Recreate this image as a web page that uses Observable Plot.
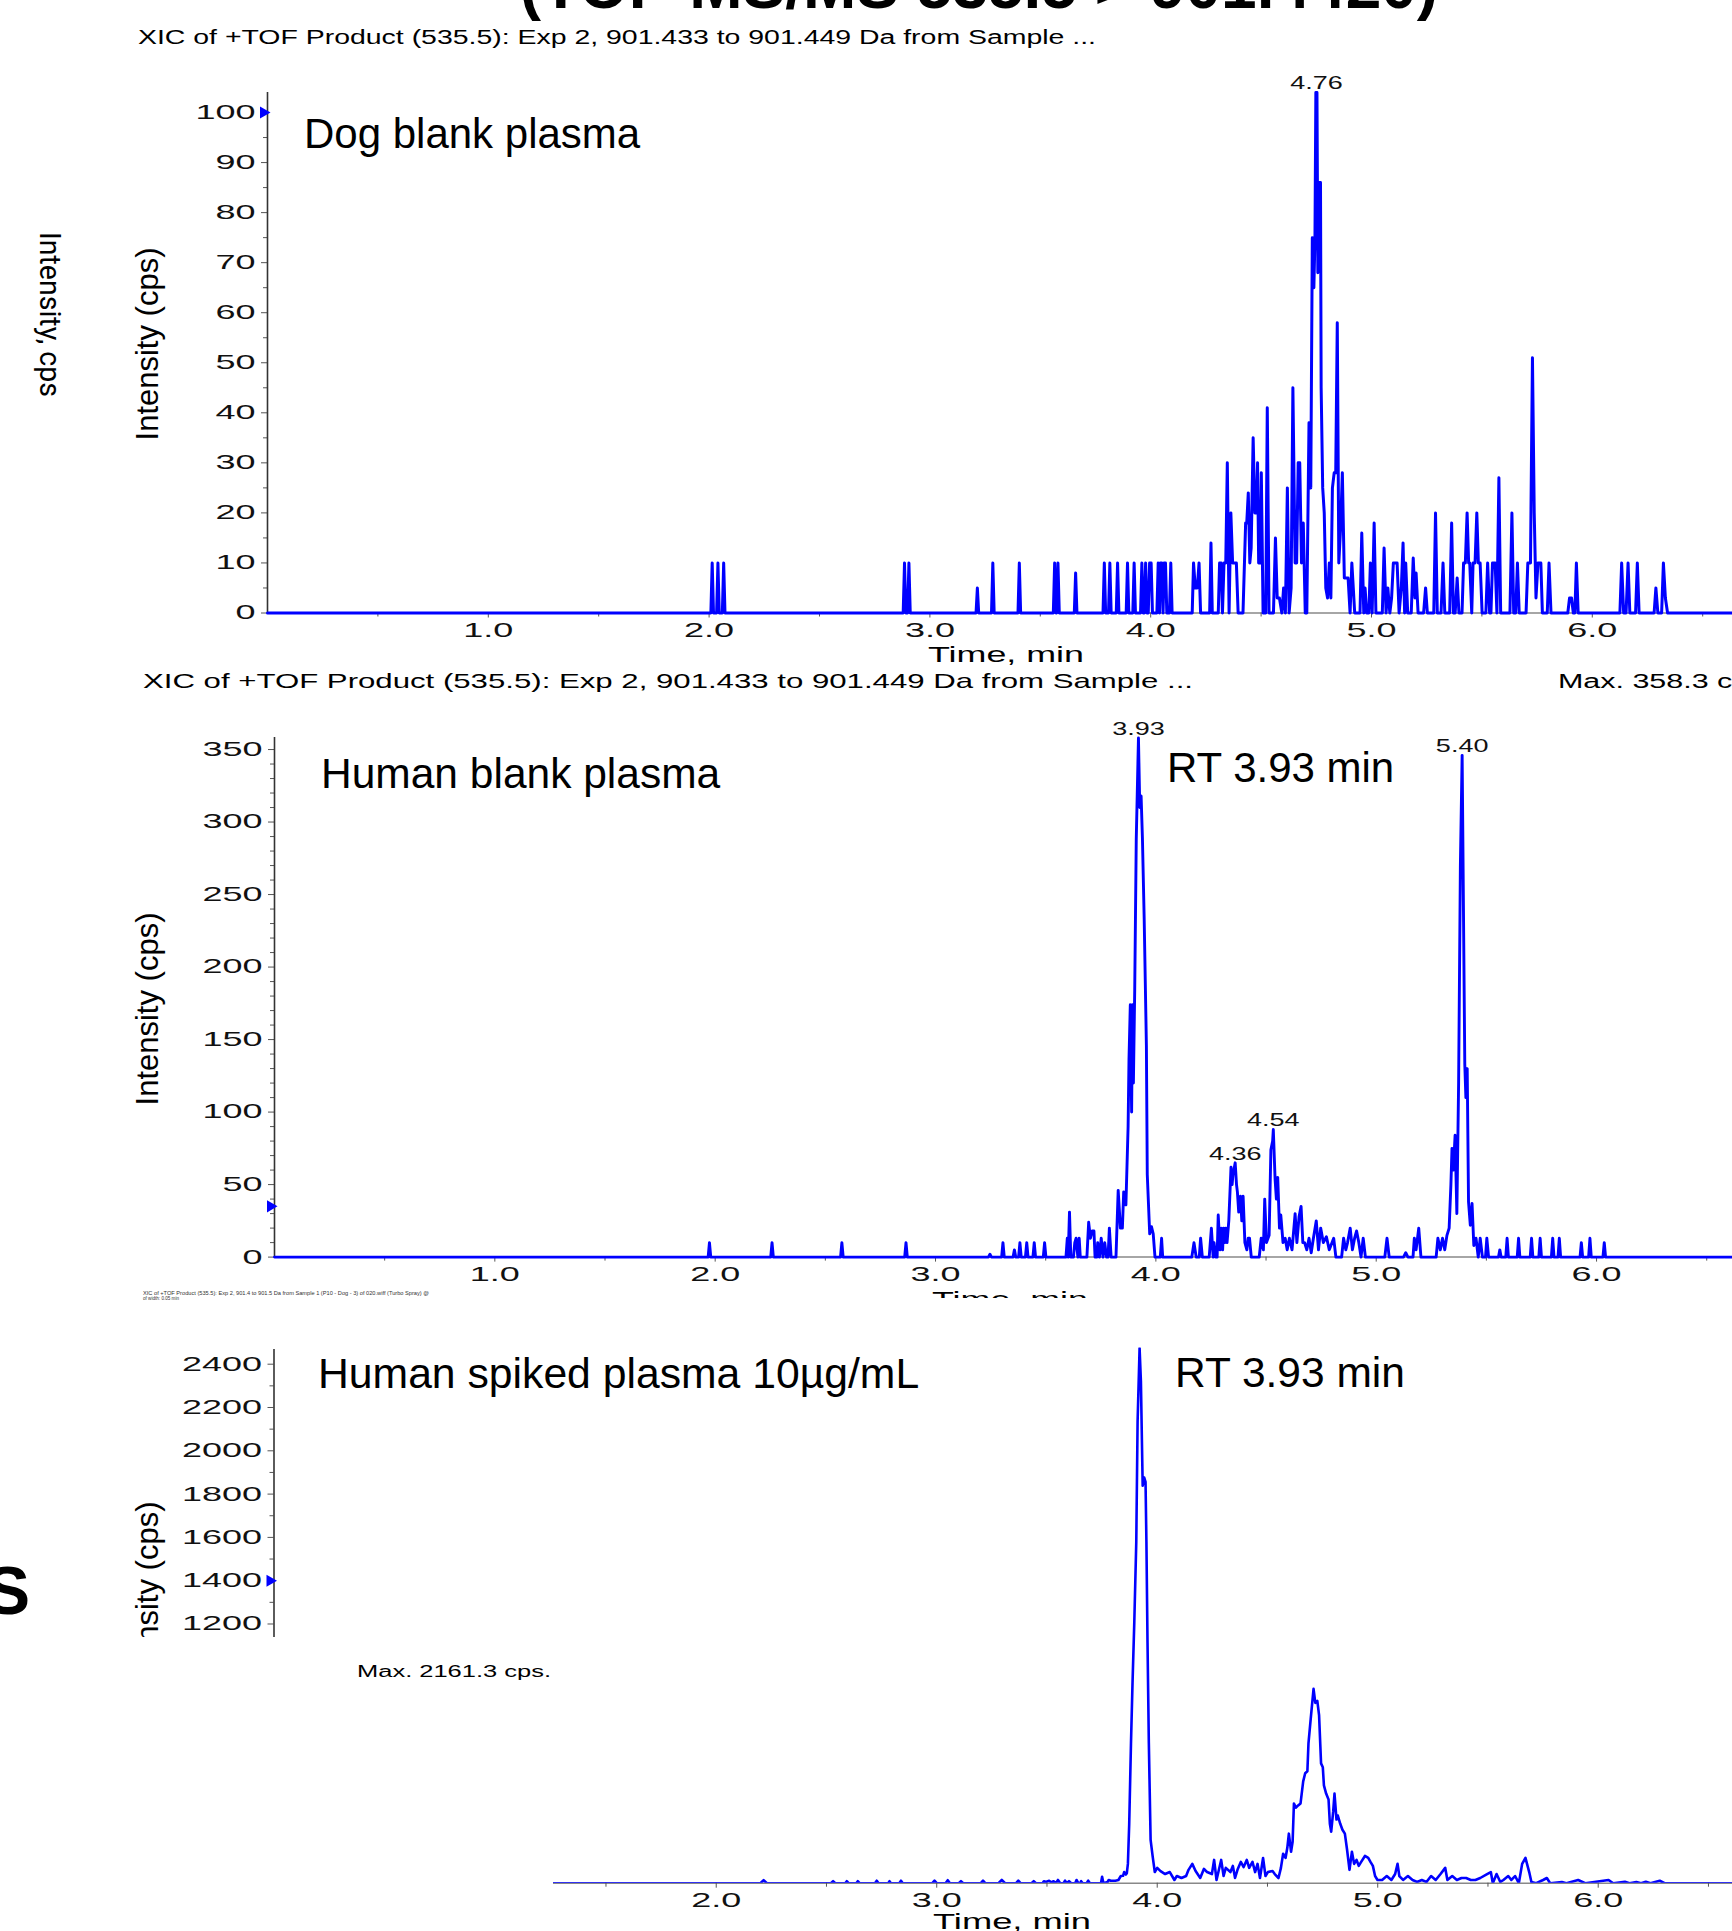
<!DOCTYPE html>
<html><head><meta charset="utf-8">
<script src="https://cdn.jsdelivr.net/npm/d3@7"></script>
<script src="https://cdn.jsdelivr.net/npm/@observablehq/plot@0.6"></script>
<style>
html,body{margin:0;padding:0;background:#fff;}
#root{position:relative;width:1732px;height:1931px;overflow:hidden;background:#fff;}
.box{position:absolute;overflow:hidden;}
</style></head>
<body><div id="root"></div>
<script>
// ---------------- DATA ----------------
// [time (min), intensity (cps)]
const dogTrace = [
[0,0],[2.008,0],[2.014,10],[2.020,0],[2.034,0],[2.040,10],[2.046,0],[2.060,0],[2.066,10],[2.072,0],
[2.879,0],[2.885,10],[2.891,0],[2.899,0],[2.905,10],[2.911,0],
[3.209,0],[3.215,5],[3.221,0],[3.279,0],[3.285,10],[3.291,0],[3.399,0],[3.405,10],[3.411,0],
[3.559,0],[3.565,10],[3.571,0],[3.574,0],[3.580,10],[3.586,0],[3.654,0],[3.660,8],[3.666,0],
[3.784,0],[3.790,10],[3.796,0],[3.809,0],[3.815,10],[3.821,0],[3.844,0],[3.850,10],[3.856,0],
[3.889,0],[3.895,10],[3.901,0],[3.919,0],[3.925,10],[3.931,0],
[3.954,0],[3.960,10],[3.966,0],[3.971,0],[3.977,10],[3.983,0],[3.989,0],[3.995,10],[4.002,10],[4.008,0],
[4.028,0],[4.034,10],[4.040,0],[4.044,10],[4.050,10],[4.056,0],[4.061,10],[4.067,10],[4.073,0],[4.085,0],[4.091,10],[4.097,0],
[4.188,0],[4.194,10],[4.202,5],[4.211,5],[4.219,10],[4.226,0],[4.267,0],[4.273,14],[4.279,0],
[4.306,0],[4.312,10],[4.319,10],[4.325,0],[4.332,10],[4.340,10],[4.347,30],[4.355,0],[4.363,20],[4.371,10],[4.379,10],[4.388,10],[4.396,0],
[4.418,0],[4.430,18],[4.435,18],[4.442,24],[4.449,10],[4.455,13],[4.464,35],[4.472,20],[4.479,20],[4.484,30],[4.489,10],[4.496,10],[4.501,28],[4.509,0],
[4.521,0],[4.528,41],[4.536,0],[4.556,0],[4.565,15],[4.573,3],[4.583,3],[4.594,0],[4.602,5],[4.610,0],[4.619,25],[4.627,0],[4.636,5],[4.644,45],
[4.654,10],[4.661,10],[4.668,30],[4.675,30],[4.683,10],[4.691,18],[4.700,0],[4.707,0],[4.717,38],[4.725,25],[4.732,75],[4.739,65],[4.744,75],
[4.748,104],[4.753,104],[4.757,68],[4.761,70],[4.764,86],[4.769,86],[4.772,45],[4.779,25],[4.786,20],[4.793,5],[4.801,3],[4.809,10],[4.816,3],
[4.823,25],[4.831,28],[4.838,28],[4.845,58],[4.852,10],[4.860,17],[4.868,28],[4.877,7],[4.885,7],[4.894,7],[4.903,0],[4.911,10],[4.924,0],
[4.948,0],[4.956,16],[4.965,0],[4.971,5],[4.978,0],[4.988,0],[4.995,10],[5.003,0],[5.012,18],[5.020,0],
[5.049,0],[5.057,13],[5.066,0],[5.074,5],[5.083,0],[5.091,3],[5.099,10],[5.108,10],[5.116,10],[5.125,0],[5.135,5],[5.143,14],[5.150,0],[5.155,10],[5.164,0],
[5.180,0],[5.189,11],[5.197,3],[5.202,8],[5.211,0],[5.236,0],[5.245,5],[5.253,0],[5.282,0],[5.290,20],[5.298,0],[5.315,0],[5.324,10],[5.332,0],
[5.354,0],[5.363,18],[5.371,0],[5.379,0],[5.388,7],[5.396,0],[5.410,0],[5.417,10],[5.425,10],[5.433,20],[5.440,10],[5.445,10],[5.454,0],
[5.460,10],[5.469,10],[5.477,20],[5.484,10],[5.492,10],[5.501,0],[5.518,0],[5.526,10],[5.535,0],[5.541,0],[5.548,10],[5.560,10],[5.568,0],
[5.577,27],[5.585,0],[5.627,0],[5.636,20],[5.644,0],[5.653,0],[5.661,10],[5.669,0],[5.700,0],[5.708,10],[5.720,10],[5.729,51],[5.737,20],
[5.745,3],[5.754,10],[5.767,10],[5.774,0],[5.796,0],[5.804,10],[5.813,0],[5.889,0],[5.897,3],[5.906,3],[5.914,0],[5.921,0],[5.928,10],[5.936,0],
[6.125,0],[6.133,10],[6.142,0],[6.153,0],[6.162,10],[6.170,0],[6.196,0],[6.204,10],[6.212,0],[6.280,0],[6.288,5],[6.297,0],
[6.314,0],[6.322,10],[6.331,3],[6.341,0],[6.635,0]
];

const humanBlankTrace = [
[0,0],[1.968,0],[1.974,10],[1.980,0],[2.252,0],[2.258,10],[2.264,0],[2.569,0],[2.575,10],[2.581,0],[2.860,0],[2.866,10],[2.872,0],
[3.240,0],[3.247,2],[3.254,0],[3.300,0],[3.306,10],[3.312,0],[3.352,0],[3.358,5],[3.364,0],[3.377,0],[3.383,10],[3.389,0],
[3.408,0],[3.414,10],[3.420,0],[3.442,0],[3.448,10],[3.454,0],[3.489,0],[3.495,10],[3.501,0],
[3.592,0],[3.598,13],[3.602,0],[3.608,31],[3.614,0],[3.626,0],[3.632,10],[3.638,13],[3.646,0],[3.652,13],[3.657,0],
[3.687,0],[3.695,24],[3.703,13],[3.711,18],[3.719,18],[3.724,0],[3.732,0],[3.736,10],[3.744,0],[3.752,13],[3.760,0],[3.768,10],[3.776,0],
[3.783,0],[3.789,20],[3.797,0],[3.819,0],[3.829,46],[3.839,20],[3.848,20],[3.854,45],[3.864,36],[3.874,90],[3.878,136],[3.884,174],
[3.890,100],[3.894,174],[3.898,120],[3.904,184],[3.911,288],[3.921,358],[3.927,310],[3.933,318],[3.939,289],[3.947,233],[3.957,146],
[3.961,57],[3.972,16],[3.980,21],[3.988,16],[3.996,0],[4.020,0],[4.026,13],[4.031,0],
[4.163,0],[4.173,10],[4.183,0],[4.197,0],[4.203,13],[4.211,0],[4.242,0],[4.252,20],[4.260,0],[4.264,10],[4.272,0],[4.278,0],[4.283,29],
[4.291,5],[4.297,20],[4.303,5],[4.307,20],[4.313,10],[4.317,20],[4.323,10],[4.331,25],[4.341,62],[4.346,50],[4.350,57],[4.360,65],
[4.366,50],[4.370,45],[4.376,31],[4.384,42],[4.390,25],[4.396,42],[4.404,10],[4.413,5],[4.419,13],[4.425,13],[4.433,0],
[4.469,0],[4.478,13],[4.488,5],[4.494,40],[4.502,10],[4.514,15],[4.522,74],[4.530,80],[4.533,88],[4.541,54],[4.547,40],[4.553,55],
[4.561,20],[4.567,29],[4.577,10],[4.587,13],[4.596,5],[4.606,13],[4.618,5],[4.632,30],[4.640,10],[4.650,28],[4.659,35],[4.667,10],
[4.675,10],[4.685,5],[4.695,13],[4.705,3],[4.715,13],[4.728,25],[4.738,5],[4.748,20],[4.760,10],[4.774,14],[4.787,5],[4.807,13],[4.817,0],
[4.843,0],[4.852,13],[4.862,5],[4.870,10],[4.882,20],[4.892,5],[4.902,13],[4.911,18],[4.921,10],[4.931,0],[4.941,13],[4.951,0],
[5.039,0],[5.049,13],[5.059,0],[5.124,0],[5.134,3],[5.144,0],[5.167,0],[5.173,13],[5.181,5],[5.193,20],[5.203,0],
[5.272,0],[5.280,13],[5.291,5],[5.301,13],[5.311,5],[5.321,15],[5.331,20],[5.339,50],[5.344,75],[5.350,60],[5.358,84],[5.366,30],
[5.374,120],[5.382,270],[5.390,346],[5.402,133],[5.407,110],[5.413,130],[5.419,38],[5.427,22],[5.435,37],[5.443,8],[5.453,13],[5.463,0],
[5.472,13],[5.482,0],[5.496,0],[5.502,13],[5.510,0],
[5.555,0],[5.561,5],[5.567,0],[5.588,0],[5.594,13],[5.600,0],[5.640,0],[5.646,13],[5.652,0],[5.699,0],[5.705,13],[5.711,0],
[5.738,0],[5.744,13],[5.750,0],[5.795,0],[5.801,13],[5.807,0],[5.825,0],[5.831,13],[5.837,0],[5.925,0],[5.931,10],[5.937,0],
[5.964,0],[5.970,13],[5.976,0],[6.029,0],[6.035,10],[6.041,0],[6.614,0]
];

const humanSpikedTrace = [
[1.262,0],[2.200,0],[2.215,12],[2.230,0],[2.520,0],[2.530,8],[2.540,0],[2.585,0],[2.592,8],[2.600,0],[2.635,0],[2.642,8],[2.650,0],
[2.720,0],[2.728,10],[2.736,0],[2.780,0],[2.786,8],[2.792,0],[2.830,0],[2.838,10],[2.846,0],[2.980,0],[2.990,10],[3.000,0],
[3.040,0],[3.050,12],[3.060,0],[3.100,0],[3.110,8],[3.120,0],[3.200,0],[3.210,10],[3.220,0],[3.280,0],[3.295,13],[3.310,0],
[3.360,0],[3.370,10],[3.380,0],[3.430,0],[3.440,8],[3.450,0],[3.480,0],[3.486,8],[3.495,5],[3.510,10],[3.520,3],[3.530,8],[3.540,0],
[3.550,13],[3.560,0],[3.575,0],[3.582,10],[3.590,0],[3.600,8],[3.610,0],[3.628,0],[3.634,13],[3.642,0],[3.650,0],[3.655,8],[3.662,0],
[3.680,0],[3.687,10],[3.695,0],[3.745,0],[3.750,26],[3.756,0],[3.775,5],[3.780,13],[3.790,10],[3.800,10],[3.810,10],[3.824,13],
[3.835,29],[3.845,30],[3.850,45],[3.858,35],[3.862,40],[3.867,78],[3.873,240],[3.881,565],[3.888,809],[3.896,1053],[3.905,1378],
[3.911,1865],[3.920,2161],[3.926,2028],[3.934,1605],[3.941,1638],[3.947,1621],[3.951,1378],[3.956,972],[3.962,565],[3.970,175],
[3.979,110],[3.989,45],[4.000,62],[4.015,49],[4.036,37],[4.057,45],[4.078,13],[4.089,29],[4.110,21],[4.131,29],[4.142,54],[4.159,78],
[4.174,49],[4.195,21],[4.212,58],[4.226,45],[4.248,37],[4.258,94],[4.269,13],[4.290,94],[4.301,29],[4.311,62],[4.332,45],[4.343,70],
[4.353,21],[4.364,54],[4.379,86],[4.392,65],[4.406,94],[4.417,62],[4.432,86],[4.444,45],[4.455,78],[4.466,21],[4.480,102],[4.491,29],
[4.502,45],[4.523,49],[4.533,37],[4.550,21],[4.561,62],[4.571,119],[4.582,102],[4.590,143],[4.597,200],[4.607,127],[4.614,167],
[4.620,322],[4.629,305],[4.639,314],[4.650,322],[4.662,411],[4.671,444],[4.681,452],[4.686,566],[4.696,663],[4.709,785],[4.717,728],
[4.726,736],[4.734,679],[4.743,484],[4.751,468],[4.756,395],[4.766,362],[4.777,338],[4.783,240],[4.789,208],[4.798,289],[4.804,362],
[4.813,257],[4.819,273],[4.830,240],[4.840,216],[4.851,200],[4.861,135],[4.872,54],[4.883,127],[4.893,78],[4.904,94],[4.914,70],
[4.925,86],[4.942,110],[4.957,102],[4.967,86],[4.978,70],[4.988,29],[4.999,13],[5.020,13],[5.041,29],[5.062,13],[5.079,37],[5.090,78],
[5.098,29],[5.115,13],[5.137,29],[5.158,13],[5.179,5],[5.200,13],[5.221,5],[5.242,29],[5.263,13],[5.285,37],[5.306,62],[5.316,13],
[5.338,29],[5.359,13],[5.380,21],[5.401,21],[5.422,13],[5.443,13],[5.465,21],[5.496,37],[5.513,45],[5.522,0],[5.539,37],[5.556,5],
[5.570,13],[5.592,29],[5.606,13],[5.623,29],[5.640,0],[5.655,78],[5.670,102],[5.687,45],[5.697,5],[5.719,0],[5.750,13],[5.767,21],
[5.782,0],[5.835,5],[5.856,0],[5.909,13],[5.941,0],[6.047,13],[6.068,0],[6.121,6],[6.142,0],[6.173,5],[6.194,0],[6.216,6],[6.237,0],
[6.279,10],[6.301,0],[6.609,0]
];

const xTicks = [1, 2, 3, 4, 5, 6];
const xMinorTicks = [0.5, 1.5, 2.5, 3.5, 4.5, 5.5, 6.5];
const spikedXTicks = [2, 3, 4, 5, 6];
const spikedXMinorTicks = [1.5, 2.5, 3.5, 4.5, 5.5, 6.5];
const dogYTicks = [0, 10, 20, 30, 40, 50, 60, 70, 80, 90, 100];
const dogYMinorTicks = [5, 15, 25, 35, 45, 55, 65, 75, 85, 95];
const blankYTicks = [0, 50, 100, 150, 200, 250, 300, 350];
const blankYMinorTicks = [10,20,30,40,60,70,80,90,110,120,130,140,160,170,180,190,210,220,230,240,260,270,280,290,310,320,330,340];
const spikedYTicks = [1200, 1400, 1600, 1800, 2000, 2200, 2400];
const spikedYMinorTicks = [1300, 1500, 1700, 1900, 2100, 2300];

const dogPeaks = [{time: 4.751, intensity: 104, label: "4.76"}];
const blankPeaks = [
  {time: 3.921, intensity: 358, label: "3.93"},
  {time: 5.390, intensity: 346, label: "5.40"},
  {time: 4.533, intensity: 88, label: "4.54"},
  {time: 4.360, intensity: 65, label: "4.36"}
];
const dogMarker = [100];
const blankMarker = [35];
const spikedMarker = [1400];

// ---------------- STYLE ----------------
const FONT = '"Liberation Sans", Arial, Helvetica, sans-serif';
const BLUE = "#0000ff";
const AXIS = "#333333";
const TICK = "#555555";
const fmt1 = d3.format(".1f");
const fmtInt = d3.format("d");
const root = document.getElementById("root");

function stretchText(t, sx) {
  const tr = t.getAttribute("transform");
  if (tr) t.setAttribute("transform", tr + ` scale(${sx},1)`);
  else {
    const x = +(t.getAttribute("x") || 0), y = +(t.getAttribute("y") || 0);
    t.removeAttribute("x"); t.removeAttribute("y");
    t.setAttribute("transform", `translate(${x},${y}) scale(${sx},1)`);
  }
}
function finish(svg) {
  svg.querySelectorAll('g[aria-label="x-axis tick label"] text, g[aria-label="y-axis tick label"] text')
    .forEach(t => stretchText(t, 1.8));
  svg.querySelectorAll('g[aria-label="text"] text').forEach(t => stretchText(t, 1.5));
  return svg;
}
function place(node, left, top, w, h) {
  const d = document.createElement("div");
  d.className = "box";
  d.style.left = left + "px"; d.style.top = top + "px";
  d.style.width = w + "px"; d.style.height = h + "px";
  d.appendChild(node);
  root.appendChild(d);
}
const baseStyle = {background: "transparent", fontFamily: FONT, color: "#111"};

function xAxes(major, minor) {
  return [
    Plot.axisX({ticks: minor, tickSize: 4, tickFormat: () => "", label: null, stroke: TICK}),
    Plot.axisX({ticks: major, tickSize: 5, tickPadding: 5, tickFormat: fmt1, fontSize: 20, label: null, stroke: TICK, fill: "#111"})
  ];
}
function yAxes(major, minor) {
  return [
    Plot.axisY({ticks: minor, tickSize: 4, tickFormat: () => "", label: null, stroke: TICK}),
    Plot.axisY({ticks: major, tickSize: 6, tickPadding: 6, tickFormat: fmtInt, fontSize: 20, label: null, stroke: TICK, fill: "#111"})
  ];
}
function marker(vals) {
  return Plot.dot(vals, {x: () => 0, y: d => d, symbol: "triangle", rotate: 90, r: 4.5, fill: BLUE, stroke: "none", dx: -4});
}

// ---------------- PANEL 1: Dog blank plasma ----------------
const p1 = Plot.plot({
  width: 1732, height: 680,
  marginLeft: 267, marginRight: 0, marginTop: 92, marginBottom: 67.5,
  x: {domain: [0, 6.635]}, y: {domain: [0, 104]},
  style: baseStyle,
  marks: [
    Plot.ruleY([0], {stroke: "#888", strokeWidth: 1.5}),
    ...xAxes(xTicks, xMinorTicks),
    ...yAxes(dogYTicks, dogYMinorTicks),
    Plot.ruleX([0], {stroke: AXIS, strokeWidth: 1.6}),
    Plot.line(dogTrace, {x: d => d[0], y: d => d[1], stroke: BLUE, strokeWidth: 3}),
    marker(dogMarker),
    Plot.text(dogPeaks, {x: "time", y: "intensity", text: "label", lineAnchor: "bottom", dy: -4, fontSize: 18, fill: "#111"})
  ]
});
place(finish(p1), 0, 0, 1732, 680);

// ---------------- PANEL 2: Human blank plasma ----------------
const p2 = Plot.plot({
  width: 1732, height: 599,
  marginLeft: 274, marginRight: 0, marginTop: 37, marginBottom: 42.4,
  x: {domain: [0, 6.617]}, y: {domain: [0, 358.3]},
  style: baseStyle,
  marks: [
    Plot.ruleY([0], {stroke: "#888", strokeWidth: 1.5}),
    ...xAxes(xTicks, xMinorTicks),
    ...yAxes(blankYTicks, blankYMinorTicks),
    Plot.ruleX([0], {stroke: AXIS, strokeWidth: 1.6}),
    Plot.line(humanBlankTrace, {x: d => d[0], y: d => d[1], stroke: BLUE, strokeWidth: 2.9}),
    marker(blankMarker),
    Plot.text(blankPeaks, {x: "time", y: "intensity", text: "label", lineAnchor: "bottom", dy: -3, fontSize: 18, fill: "#111"})
  ]
});
place(finish(p2), 0, 700, 1732, 599);

// ---------------- PANEL 3a: spiked y axis fragment ----------------
const p3a = Plot.plot({
  width: 300, height: 297,
  marginLeft: 273.5, marginRight: 0, marginTop: 9, marginBottom: 0,
  x: {domain: [0, 1], axis: null}, y: {domain: [1137.6, 2467.9]},
  style: baseStyle,
  marks: [
    ...yAxes(spikedYTicks, spikedYMinorTicks),
    Plot.ruleX([0], {stroke: AXIS, strokeWidth: 1.6}),
    marker(spikedMarker)
  ]
});
place(finish(p3a), 0, 1340, 300, 297);

// ---------------- PANEL 3b: spiked chromatogram ----------------
const p3b = Plot.plot({
  width: 1179, height: 601,
  marginLeft: 0, marginRight: 0, marginTop: 17.5, marginBottom: 48.3,
  x: {domain: [1.262, 6.609]}, y: {domain: [0, 2161.3], axis: null},
  style: baseStyle,
  marks: [
    Plot.ruleY([0], {stroke: "#888", strokeWidth: 1.5}),
    ...xAxes(spikedXTicks, spikedXMinorTicks),
    Plot.line(humanSpikedTrace, {x: d => d[0], y: d => d[1], stroke: BLUE, strokeWidth: 2.6, clip: true})
  ]
});
place(finish(p3b), 553, 1330, 1179, 601);

// ---------------- TEXT OVERLAY ----------------
const overlay = `
<svg xmlns="http://www.w3.org/2000/svg" width="1732" height="1931" style="position:absolute;left:0;top:0;pointer-events:none" font-family='${FONT}' fill="#000">
<defs>
  <clipPath id="clipP2"><rect x="0" y="0" width="1732" height="1298"/></clipPath>
  <clipPath id="clipP3"><rect x="0" y="0" width="1732" height="1637"/></clipPath>
</defs>
<text x="979" y="8" text-anchor="middle" font-weight="bold" font-size="64">(TOF-MS/MS 535.5 &gt; 901.4420)</text>
<text x="138" y="44" font-size="20" textLength="958" lengthAdjust="spacingAndGlyphs">XIC of +TOF Product (535.5): Exp 2, 901.433 to 901.449 Da from Sample ...</text>
<text x="304" y="148" font-size="42">Dog blank plasma</text>
<text transform="translate(158,344) rotate(-90)" text-anchor="middle" font-size="31">Intensity (cps)</text>
<text x="1006" y="662" text-anchor="middle" font-size="22" textLength="156" lengthAdjust="spacingAndGlyphs">Time, min</text>

<text x="143" y="688" font-size="21" textLength="1050" lengthAdjust="spacingAndGlyphs">XIC of +TOF Product (535.5): Exp 2, 901.433 to 901.449 Da from Sample ...</text>
<text transform="translate(1558,688) scale(1.45,1)" font-size="21">Max. 358.3 cps.</text>
<text x="321" y="788" font-size="42.5">Human blank plasma</text>
<text x="1167" y="782" font-size="42">RT 3.93 min</text>
<text transform="translate(158,1009) rotate(-90)" text-anchor="middle" font-size="31">Intensity (cps)</text>
<g clip-path="url(#clipP2)"><text x="1010" y="1307" text-anchor="middle" font-size="22" textLength="156" lengthAdjust="spacingAndGlyphs">Time, min</text></g>
<text x="143" y="1295" font-size="4.6" fill="#333" textLength="286" lengthAdjust="spacingAndGlyphs">XIC of +TOF Product (535.5): Exp 2, 901.4 to 901.5 Da from Sample 1 (P10 - Dog - 3) of 020.wiff (Turbo Spray) @</text>
<text x="143" y="1300" font-size="4.6" fill="#333">of width: 0.05 min</text>

<text x="318" y="1388" font-size="42.7">Human spiked plasma 10µg/mL</text>
<text x="1175" y="1387" font-size="42.5">RT 3.93 min</text>
<text x="357" y="1677" font-size="16" textLength="194" lengthAdjust="spacingAndGlyphs">Max. 2161.3 cps.</text>
<g clip-path="url(#clipP3)"><text transform="translate(158,1598) rotate(-90)" text-anchor="middle" font-size="31">Intensity (cps)</text></g>
<text x="1012" y="1929" text-anchor="middle" font-size="22" textLength="158" lengthAdjust="spacingAndGlyphs">Time, min</text>

<text x="30" y="1614" text-anchor="end" font-weight="bold" font-size="68">S</text>
<text transform="translate(40,232) rotate(90)" font-family="Roboto, sans-serif" font-size="29" textLength="165" lengthAdjust="spacingAndGlyphs">Intensity, cps</text>
</svg>`;
root.insertAdjacentHTML("beforeend", overlay);
</script>
</body></html>
